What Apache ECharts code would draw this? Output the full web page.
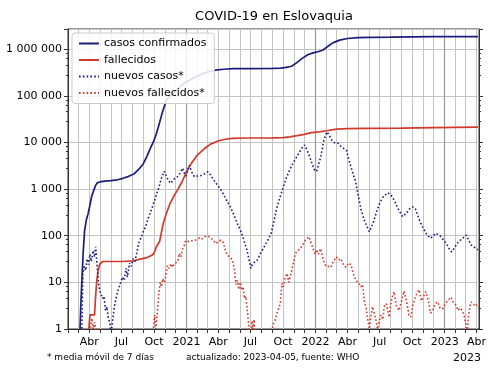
<!DOCTYPE html>
<html>
<head>
<meta charset="utf-8">
<script src="https://cdn.jsdelivr.net/npm/echarts@6/dist/echarts.min.js"></script>
<style>
  html, body { margin: 0; padding: 0; background: #fff; }
  #chart { width: 500px; height: 375px; }
</style>
</head>
<body>
<div id="chart"></div>
<script>
// eje x: un día por categoría
const startDay = Date.UTC(2020, 1, 1);
const endDay = Date.UTC(2023, 3, 8);
const monthLabels = ['', '', '', 'Abr', '', '', 'Jul', '', '', 'Oct', '', ''];
const yTickLabels = ['1', '10', '100', '1 000', '10 000', '100 000', '1 000 000'];

const casosConfirmados = [
  ['2020-03-06', 1], ['2020-03-08', 3], ['2020-03-11', 10], ['2020-03-15', 45], ['2020-03-19', 130],
  ['2020-03-24', 220], ['2020-03-29', 300], ['2020-04-03', 450], ['2020-04-08', 700], ['2020-04-14', 950],
  ['2020-04-19', 1200], ['2020-04-24', 1360], ['2020-05-01', 1420], ['2020-05-15', 1480], ['2020-06-01', 1520],
  ['2020-06-20', 1580], ['2020-07-05', 1700], ['2020-07-20', 1850], ['2020-08-05', 2100], ['2020-08-20', 2700],
  ['2020-09-01', 3500], ['2020-09-12', 5200], ['2020-09-22', 7800], ['2020-09-30', 10500], ['2020-10-08', 15500],
  ['2020-10-16', 25000], ['2020-10-24', 42000], ['2020-10-31', 62000], ['2020-11-06', 83000], ['2020-11-15', 97000],
  ['2020-11-25', 114000], ['2020-12-05', 135000], ['2020-12-15', 160000], ['2020-12-25', 185000], ['2021-01-05', 205000],
  ['2021-01-20', 240000], ['2021-02-05', 272000], ['2021-02-20', 305000], ['2021-03-10', 335000], ['2021-03-25', 355000],
  ['2021-04-15', 370000], ['2021-05-15', 380000], ['2021-07-01', 383000], ['2021-09-01', 385000], ['2021-09-25', 392000],
  ['2021-10-10', 405000], ['2021-10-25', 430000], ['2021-11-10', 520000], ['2021-11-25', 640000], ['2021-12-10', 760000],
  ['2021-12-25', 830000], ['2022-01-10', 890000], ['2022-01-22', 960000], ['2022-02-05', 1150000], ['2022-02-20', 1380000],
  ['2022-03-10', 1560000], ['2022-04-01', 1690000], ['2022-05-01', 1760000], ['2022-06-01', 1780000], ['2022-08-01', 1800000],
  ['2022-10-01', 1830000], ['2022-12-01', 1845000], ['2023-02-01', 1855000], ['2023-04-05', 1862000]
];

const fallecidos = [
  ['2020-03-31', 1], ['2020-04-03', 2], ['2020-04-16', 2], ['2020-04-19', 5], ['2020-04-22', 10],
  ['2020-04-26', 18], ['2020-05-01', 25], ['2020-05-10', 28], ['2020-07-01', 28], ['2020-08-05', 29],
  ['2020-08-23', 31.5], ['2020-09-12', 34], ['2020-09-25', 38], ['2020-10-01', 42], ['2020-10-08', 58],
  ['2020-10-17', 75], ['2020-10-27', 180], ['2020-11-05', 300], ['2020-11-15', 480], ['2020-11-26', 700],
  ['2020-12-08', 1000], ['2020-12-20', 1450], ['2021-01-01', 2350], ['2021-01-14', 3500], ['2021-01-30', 5200],
  ['2021-02-21', 7400], ['2021-03-10', 9200], ['2021-03-31', 10700], ['2021-04-20', 11700], ['2021-05-10', 12200],
  ['2021-06-15', 12450], ['2021-09-01', 12550], ['2021-10-01', 12700], ['2021-10-20', 13200], ['2021-11-10', 14000],
  ['2021-11-30', 14900], ['2021-12-20', 16200], ['2022-01-12', 16900], ['2022-02-01', 17800], ['2022-03-01', 19200],
  ['2022-04-01', 19700], ['2022-06-01', 19950], ['2022-09-01', 20200], ['2022-12-01', 20700], ['2023-02-01', 21000],
  ['2023-04-05', 21300]
];

const nuevosCasos = [
  ['2020-03-10', 0.4], ['2020-03-12', 2], ['2020-03-14', 16], ['2020-03-18', 22], ['2020-03-22', 18],
  ['2020-03-26', 32], ['2020-03-30', 24], ['2020-04-03', 40], ['2020-04-07', 28], ['2020-04-12', 48],
  ['2020-04-16', 35], ['2020-04-19', 58], ['2020-04-23', 25], ['2020-04-27', 10], ['2020-05-01', 6.5],
  ['2020-05-05', 7], ['2020-05-09', 4.5], ['2020-05-13', 5], ['2020-05-17', 2.5], ['2020-05-21', 3],
  ['2020-05-25', 1.7], ['2020-05-29', 1.4], ['2020-06-02', 0.8], ['2020-06-06', 1.5], ['2020-06-11', 3],
  ['2020-06-17', 5], ['2020-06-22', 7], ['2020-06-29', 10], ['2020-07-04', 13], ['2020-07-09', 11],
  ['2020-07-14', 20], ['2020-07-18', 13], ['2020-07-24', 26], ['2020-07-29', 22], ['2020-08-03', 32],
  ['2020-08-08', 28], ['2020-08-14', 45], ['2020-08-20', 75], ['2020-08-27', 95], ['2020-09-02', 130],
  ['2020-09-08', 160], ['2020-09-14', 230], ['2020-09-20', 300], ['2020-09-27', 420], ['2020-10-04', 600],
  ['2020-10-10', 850], ['2020-10-16', 1150], ['2020-10-22', 1700], ['2020-10-30', 2400], ['2020-11-05', 1900],
  ['2020-11-11', 1500], ['2020-11-18', 1330], ['2020-11-25', 1600], ['2020-12-01', 1750], ['2020-12-07', 1850],
  ['2020-12-14', 2200], ['2020-12-21', 2800], ['2020-12-27', 2100], ['2020-12-31', 1900], ['2021-01-05', 2600],
  ['2021-01-09', 3250], ['2021-01-15', 2400], ['2021-01-23', 1850], ['2021-02-01', 1900], ['2021-02-11', 1950],
  ['2021-02-20', 2100], ['2021-03-02', 2350], ['2021-03-10', 2000], ['2021-03-19', 1560], ['2021-03-30', 1200],
  ['2021-04-12', 870], ['2021-04-22', 620], ['2021-05-05', 415], ['2021-05-15', 280], ['2021-05-25', 180],
  ['2021-06-02', 133], ['2021-06-10', 90], ['2021-06-21', 49], ['2021-06-27', 30], ['2021-07-02', 20],
  ['2021-07-06', 24], ['2021-07-10', 22], ['2021-07-14', 28], ['2021-07-20', 30], ['2021-07-28', 40],
  ['2021-08-07', 55], ['2021-08-15', 70], ['2021-08-22', 90], ['2021-08-28', 110], ['2021-09-05', 200],
  ['2021-09-13', 380], ['2021-09-22', 650], ['2021-09-30', 1000], ['2021-10-11', 1800], ['2021-10-20', 2600],
  ['2021-10-29', 3550], ['2021-11-08', 4800], ['2021-11-17', 6300], ['2021-11-25', 8000], ['2021-12-01', 8800],
  ['2021-12-08', 6800], ['2021-12-15', 5000], ['2021-12-22', 3500], ['2021-12-29', 2560], ['2022-01-04', 2400],
  ['2022-01-09', 2500], ['2022-01-16', 5000], ['2022-01-24', 11000], ['2022-02-02', 16800], ['2022-02-09', 14000],
  ['2022-02-16', 11000], ['2022-02-24', 9800], ['2022-03-06', 9600], ['2022-03-15', 8000], ['2022-03-29', 6800],
  ['2022-04-06', 4000], ['2022-04-14', 2500], ['2022-04-24', 1450], ['2022-05-02', 700], ['2022-05-10', 355],
  ['2022-05-20', 200], ['2022-06-02', 122], ['2022-06-12', 180], ['2022-06-22', 320], ['2022-07-01', 495],
  ['2022-07-12', 700], ['2022-07-24', 830], ['2022-08-02', 750], ['2022-08-11', 580], ['2022-08-22', 380],
  ['2022-09-04', 256], ['2022-09-14', 300], ['2022-09-24', 380], ['2022-10-02', 415], ['2022-10-10', 380],
  ['2022-10-20', 230], ['2022-10-30', 156], ['2022-11-10', 110], ['2022-11-22', 88], ['2022-12-01', 100],
  ['2022-12-06', 112], ['2022-12-14', 105], ['2022-12-22', 95], ['2022-12-29', 80], ['2023-01-07', 65],
  ['2023-01-14', 52], ['2023-01-21', 45], ['2023-01-30', 58], ['2023-02-09', 74], ['2023-02-20', 88],
  ['2023-03-03', 103], ['2023-03-10', 80], ['2023-03-17', 63], ['2023-03-28', 55], ['2023-04-05', 50]
];

const nuevosFallecidos = [
  ['2020-04-02', 0.5], ['2020-04-04', 1], ['2020-04-08', 1.7], ['2020-04-12', 1], ['2020-04-16', 1.4],
  ['2020-04-20', 1], ['2020-04-24', 0.5], ['2020-04-25', null],
  ['2020-09-28', 0.5], ['2020-09-30', 1.2], ['2020-10-03', 2], ['2020-10-06', 1], ['2020-10-09', 1.7],
  ['2020-10-12', 3], ['2020-10-15', 6], ['2020-10-19', 10], ['2020-10-22', 8], ['2020-10-26', 12],
  ['2020-10-30', 10], ['2020-11-03', 13], ['2020-11-08', 23], ['2020-11-13', 20], ['2020-11-18', 25],
  ['2020-11-23', 21], ['2020-11-27', 25], ['2020-12-02', 24], ['2020-12-07', 28], ['2020-12-12', 42],
  ['2020-12-16', 35], ['2020-12-20', 50], ['2020-12-25', 60], ['2020-12-29', 78], ['2021-01-03', 84],
  ['2021-01-08', 75], ['2021-01-13', 82], ['2021-01-17', 78], ['2021-01-21', 85], ['2021-01-26', 80],
  ['2021-01-31', 88], ['2021-02-07', 90], ['2021-02-14', 85], ['2021-02-21', 95], ['2021-03-02', 99],
  ['2021-03-09', 92], ['2021-03-16', 82], ['2021-03-25', 68], ['2021-04-01', 75], ['2021-04-08', 80],
  ['2021-04-15', 72], ['2021-04-22', 45], ['2021-04-27', 38], ['2021-05-04', 35], ['2021-05-11', 30],
  ['2021-05-16', 20], ['2021-05-21', 9], ['2021-05-25', 11], ['2021-05-29', 7], ['2021-06-02', 10],
  ['2021-06-06', 6.8], ['2021-06-10', 8], ['2021-06-14', 4.5], ['2021-06-18', 5], ['2021-06-22', 2.5],
  ['2021-06-26', 1.2], ['2021-06-28', 0.5], ['2021-06-29', null],
  ['2021-07-02', 0.5], ['2021-07-05', 1.5], ['2021-07-08', 1], ['2021-07-11', 1.6], ['2021-07-14', 0.5],
  ['2021-07-15', null],
  ['2021-08-28', 0.5], ['2021-09-02', 1.2], ['2021-09-08', 1.5], ['2021-09-14', 2.2], ['2021-09-18', 2],
  ['2021-09-23', 3.5], ['2021-09-28', 9.5], ['2021-10-02', 8], ['2021-10-06', 12], ['2021-10-12', 15.5],
  ['2021-10-17', 10], ['2021-10-22', 14], ['2021-10-27', 20], ['2021-11-01', 30], ['2021-11-05', 42],
  ['2021-11-12', 48], ['2021-11-19', 53], ['2021-11-26', 65], ['2021-12-03', 80], ['2021-12-08', 85],
  ['2021-12-13', 95], ['2021-12-18', 75], ['2021-12-24', 55], ['2021-12-30', 40], ['2022-01-04', 50],
  ['2022-01-09', 40], ['2022-01-15', 53], ['2022-01-21', 35], ['2022-01-26', 25], ['2022-01-31', 22],
  ['2022-02-06', 22], ['2022-02-13', 21], ['2022-02-20', 28], ['2022-03-01', 35], ['2022-03-07', 30],
  ['2022-03-14', 32], ['2022-03-21', 24], ['2022-03-28', 21], ['2022-04-04', 26], ['2022-04-11', 24],
  ['2022-04-18', 15], ['2022-04-25', 11], ['2022-05-02', 10], ['2022-05-09', 8], ['2022-05-14', 9],
  ['2022-05-19', 4], ['2022-05-24', 2.8], ['2022-05-29', 1.5], ['2022-06-02', 1], ['2022-06-06', 1.8],
  ['2022-06-11', 3], ['2022-06-16', 2.8], ['2022-06-21', 1.5], ['2022-06-25', 1], ['2022-06-30', 1.5],
  ['2022-07-05', 2], ['2022-07-10', 1.6], ['2022-07-14', 3], ['2022-07-20', 3.5], ['2022-07-28', 1.8],
  ['2022-08-04', 4.5], ['2022-08-11', 6.3], ['2022-08-18', 3], ['2022-08-25', 2.5], ['2022-09-01', 4],
  ['2022-09-08', 6.5], ['2022-09-15', 4], ['2022-09-22', 2], ['2022-09-27', 1.8], ['2022-10-03', 3.3],
  ['2022-10-09', 4.5], ['2022-10-15', 6], ['2022-10-21', 6.9], ['2022-10-27', 4], ['2022-11-02', 5],
  ['2022-11-09', 6.3], ['2022-11-16', 4], ['2022-11-22', 2.2], ['2022-11-28', 2.5], ['2022-12-05', 3.5],
  ['2022-12-12', 3.8], ['2022-12-19', 2.8], ['2022-12-26', 2.7], ['2023-01-03', 3.5], ['2023-01-09', 4],
  ['2023-01-19', 4.8], ['2023-01-25', 3.8], ['2023-02-01', 3.3], ['2023-02-08', 2.5], ['2023-02-14', 2.8],
  ['2023-02-20', 2.5], ['2023-02-26', 1.8], ['2023-03-03', 1.1], ['2023-03-06', 0.8], ['2023-03-09', 1.8],
  ['2023-03-13', 3], ['2023-03-17', 3.8], ['2023-03-24', 3.3], ['2023-03-30', 3.5], ['2023-04-05', 2.8]
];

const days = [];
for (let t = startDay; t <= endDay; t += 86400000) {
  days.push(new Date(t).toISOString().slice(0, 10));
}

const navy = '#1c1c80';
const red = '#d3392b';
const gridColor = '#c4c4c4';
const font = 'DejaVu Sans';

const isMonthStart = (i, v) => v.slice(8) === '01';
const isQuarterStart = (i, v) => isMonthStart(i, v) && (+v.slice(5, 7) - 1) % 3 === 0;
const isYearStart = (i, v) => v.slice(5) === '01-01';

function xLabel(v) {
  const m = +v.slice(5, 7) - 1;
  return m === 0 ? v.slice(0, 4) : monthLabels[m];
}

function yLabel(v) {
  const e = Math.log10(v);
  const r = Math.round(e);
  if (Math.abs(e - r) > 1e-6 || r < 0 || r >= yTickLabels.length) return '';
  return yTickLabels[r];
}

const yBase = {
  type: 'log',
  logBase: 10,
  min: 1,
  max: 2700000,
  splitNumber: 7
};

const chart = echarts.init(document.getElementById('chart'));
chart.setOption({
  animation: false,
  backgroundColor: '#fff',
  grid: {
    left: 68, right: 21, top: 29, bottom: 46,
    show: true, borderColor: '#333', borderWidth: 1
  },
  legend: {
    orient: 'vertical',
    left: 72,
    top: 33,
    itemWidth: 20,
    itemHeight: 10,
    itemGap: 5.5,
    padding: [5, 8, 5, 6],
    backgroundColor: 'rgba(255,255,255,0.85)',
    borderColor: '#ccc',
    borderWidth: 1,
    borderRadius: 3,
    itemStyle: { opacity: 0 },
    textStyle: { fontFamily: font, fontSize: 11, color: '#000' },
    data: ['casos confirmados', 'fallecidos', 'nuevos casos*', 'nuevos fallecidos*']
  },
  xAxis: [{
    type: 'category',
    data: days,
    boundaryGap: false,
    axisLine: { lineStyle: { color: '#333' } },
    axisTick: { interval: isMonthStart, length: 4, lineStyle: { color: '#333' } },
    axisLabel: {
      interval: isQuarterStart, formatter: xLabel, margin: 8,
      fontFamily: font, fontSize: 11, color: '#000'
    },
    splitLine: { show: true, interval: isMonthStart, lineStyle: { color: gridColor, width: 1 } }
  }, {
    type: 'category',
    data: days,
    boundaryGap: false,
    position: 'top',
    axisLine: { show: false },
    axisTick: { show: false },
    axisLabel: { show: false },
    splitLine: { show: true, interval: isYearStart, lineStyle: { color: '#9a9a9a', width: 1.2 } }
  }],
  yAxis: [Object.assign({}, yBase, {
    position: 'left',
    axisLine: { show: true, lineStyle: { color: '#333' } },
    axisTick: { show: true, length: 4, lineStyle: { color: '#333' } },
    minorTick: { show: true, splitNumber: 5, length: 2, lineStyle: { color: '#333' } },
    axisLabel: { formatter: yLabel, margin: 6, fontFamily: font, fontSize: 11, color: '#000' },
    splitLine: { show: true, lineStyle: { color: gridColor, width: 1 } }
  }), Object.assign({}, yBase, {
    position: 'right',
    axisLine: { show: true, lineStyle: { color: '#333' } },
    axisTick: { show: true, length: 4, lineStyle: { color: '#333' } },
    minorTick: { show: true, splitNumber: 5, length: 2, lineStyle: { color: '#333' } },
    axisLabel: { show: false },
    splitLine: { show: false }
  })],
  series: [{
    name: 'casos confirmados',
    type: 'line',
    data: casosConfirmados,
    symbol: 'none',
    itemStyle: { color: navy },
    lineStyle: { color: navy, width: 1.7 }
  }, {
    name: 'fallecidos',
    type: 'line',
    data: fallecidos,
    symbol: 'none',
    itemStyle: { color: red },
    lineStyle: { color: red, width: 1.7 }
  }, {
    name: 'nuevos casos*',
    type: 'line',
    data: nuevosCasos,
    symbol: 'none',
    connectNulls: false,
    itemStyle: { color: navy },
    lineStyle: { color: navy, width: 1.6, type: [1.6, 2.2] }
  }, {
    name: 'nuevos fallecidos*',
    type: 'line',
    data: nuevosFallecidos,
    symbol: 'none',
    connectNulls: false,
    itemStyle: { color: red },
    lineStyle: { color: red, width: 1.6, type: [1.6, 2.2] }
  }],
  graphic: [{
    type: 'text', x: 274, y: 17,
    style: { text: 'COVID-19 en Eslovaquia', font: '13px "DejaVu Sans"', fill: '#000', textAlign: 'center', textVerticalAlign: 'middle' }
  }, {
    type: 'text', x: 47, y: 358,
    style: { text: '* media móvil de 7 días', font: '9px "DejaVu Sans"', fill: '#000', textAlign: 'left', textVerticalAlign: 'middle' }
  }, {
    type: 'text', x: 186, y: 358,
    style: { text: 'actualizado: 2023-04-05, fuente: WHO', font: '9px "DejaVu Sans"', fill: '#000', textAlign: 'left', textVerticalAlign: 'middle' }
  }, {
    type: 'text', x: 481, y: 358,
    style: { text: '2023', font: '11px "DejaVu Sans"', fill: '#000', textAlign: 'right', textVerticalAlign: 'middle' }
  }]
});
</script>
</body>
</html>
